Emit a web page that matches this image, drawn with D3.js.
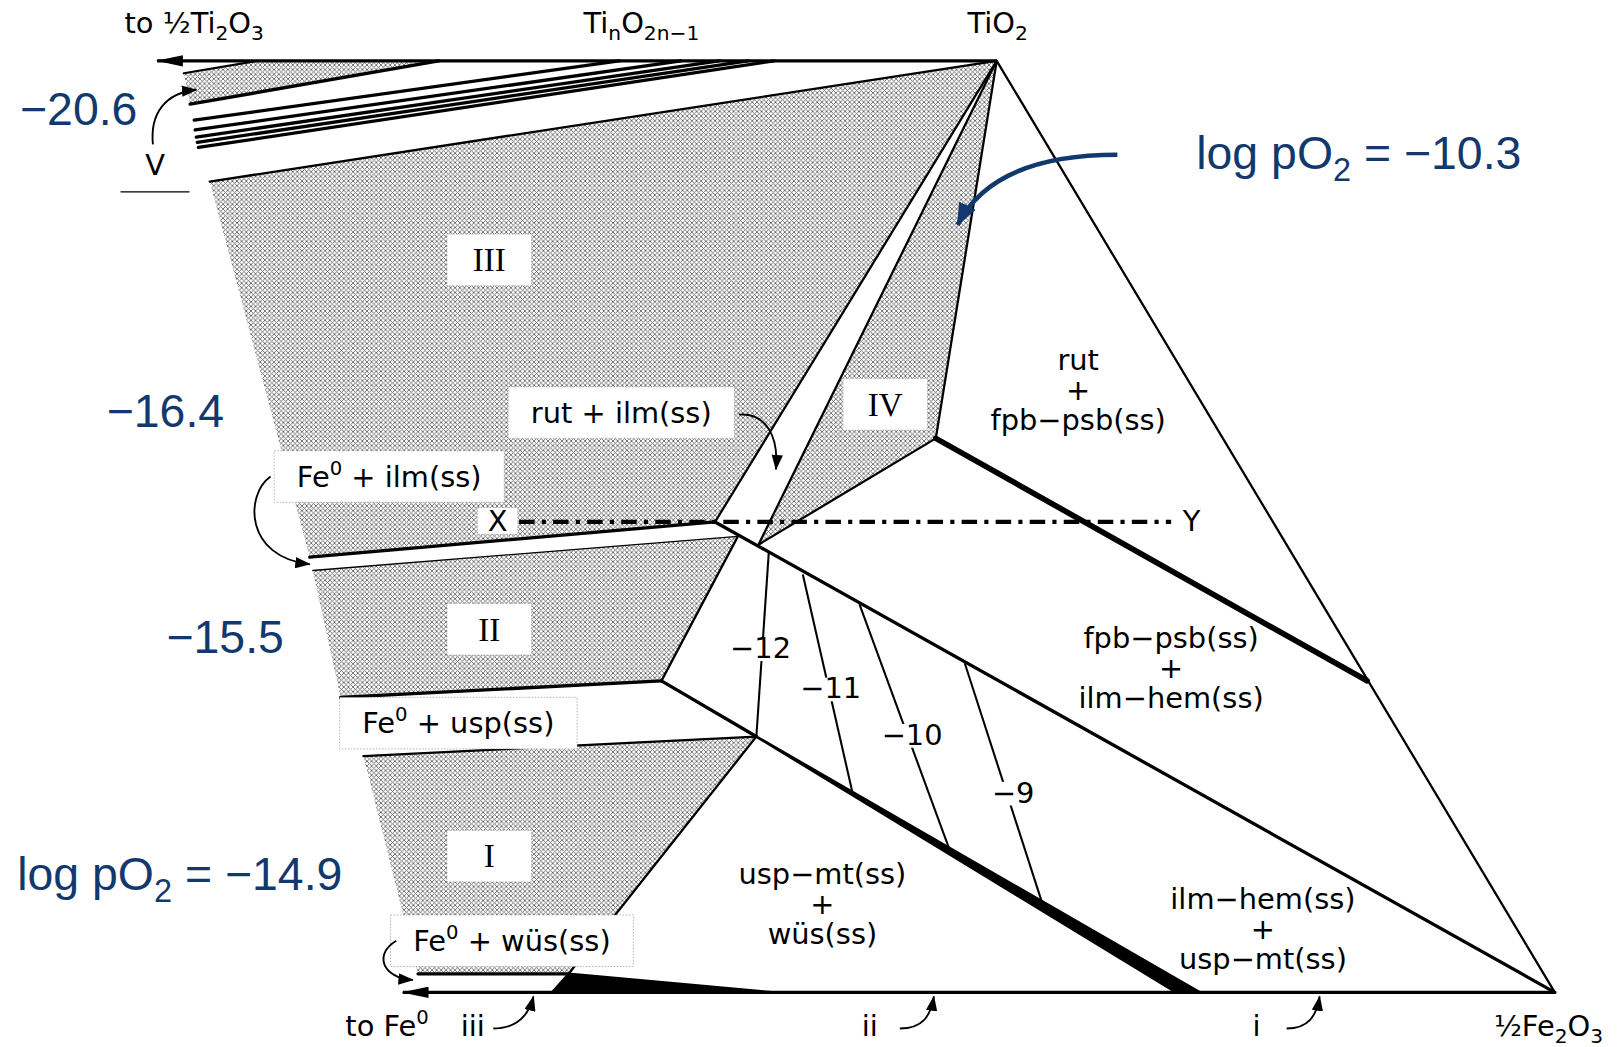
<!DOCTYPE html>
<html>
<head>
<meta charset="utf-8">
<title>Fe-Ti-O phase relations</title>
<script src="https://cdnjs.cloudflare.com/ajax/libs/d3/7.8.5/d3.min.js"></script>
<style>
    body{margin:0;background:#fff;}
    svg{display:block;}
</style>
</head>
<body>
<div id="chart"></div>
<script>
// diagram units: u goes 0 (left arrow tips) -> 100 (1/2 Fe2O3), v goes 0 (Fe - Fe2O3 join) -> 100 (Ti2O3 - TiO2 join)
var TiO2 = [60.13,100]
var Fe2O3 = [100,0]

// shaded three-phase fields (V wedge, III, IV, II, I)
var hatchRegions = [
    [[2.06,98.67],[7.30,100],[20.27,100],[2.51,95.35]],
    [[3.91,87.04],[60.13,100],[40.01,50.50],[11.05,46.73]],
    [[60.13,100],[43.11,48.06],[55.78,59.47]],
    [[11.27,45.29],[41.64,48.95],[36.18,33.44],[13.26,31.67]],
    [[14.89,25.36],[42.96,27.46],[29.55,1.99],[18.79,1.99]]
]

// joins with arrows: Ti2O3-TiO2 and Fe-Fe2O3
var joins = [
    [[60.13,100],[0.15,100]],
    [[100,0],[17.7,0]]
]

var heavyLines = [
    [[55.78,59.47],[86.59,33.44]]
]
var boldLines = [
    [[2.51,95.35],[20.27,100]],
    [[2.80,93.63],[33.16,100]],
    [[2.87,92.58],[37.58,100]],
    [[2.95,91.81],[40.31,100]],
    [[3.02,91.25],[42.37,100]],
    [[3.10,90.70],[44.22,100]],
    [[11.05,46.73],[40.01,50.50]],
    [[13.26,31.67],[36.18,33.44]],
    [[40.01,50.50],[100,0]],
    [[36.18,33.44],[42.96,27.46]],
    [[18.79,1.99],[29.55,1.99]]
]
var mediumLines = [
    [[2.06,98.67],[7.30,100]],
    [[3.91,87.04],[60.13,100]],
    [[60.13,100],[40.01,50.50]],
    [[60.13,100],[43.11,48.06]],
    [[60.13,100],[55.78,59.47]],
    [[55.78,59.47],[43.11,48.06]],
    [[41.64,48.95],[36.18,33.44]],
    [[14.89,25.36],[42.96,27.46]],
    [[42.96,27.46],[29.55,1.99]],
    [[60.13,100],[100,0]]
]
var thinLines = [
    [[11.27,45.29],[41.64,48.95]],
    [[-2.43,85.94],[2.43,85.94]]
]
// solid black wedges
var wedges = [
    [[42.96,27.46],[74.65,0],[72.95,0]],
    [[28.37,0],[29.55,1.99],[44.07,0]]
]
// section X-Y
var sectionXY = [[26.01,50.50],[72.59,50.50]]

// log pO2 isobars
var isobarLevels = ["−12","−11","−10","−9"]
var isobarTop = [[43.85,47.29],[46.28,44.85],[50.33,41.64],[57.85,35.33]]
var isobarBottom = [[42.96,27.46],[49.82,21.48],[56.74,15.39],[63.37,9.63]]
var isobarLabelAt = [[43.26,36.99],[48.27,32.67],[54.09,27.69],[61.31,21.48]]

// boxed labels
var boxLabels = ["rut + ilm(ss)","Fe^{0} + ilm(ss)","Fe^{0} + usp(ss)","Fe^{0} + wüs(ss)","X"]
var boxCenters = [[33.31,62.24],[16.73,55.37],[21.67,28.90],[25.50,5.54],[24.47,50.61]]
var romanLabels = ["III","IV","II","I"]
var romanCenters = [[23.88,78.63],[52.17,63.12],[23.88,38.98],[23.88,14.62]]

// free phase labels (three lines each)
var phaseLabels = [
    ["rut","+","fpb−psb(ss)"],
    ["fpb−psb(ss)","+","ilm−hem(ss)"],
    ["usp−mt(ss)","+","wüs(ss)"],
    ["ilm−hem(ss)","+","usp−mt(ss)"]
]
var phaseCenters = [[65.95,64.67],[72.59,34.88],[47.68,9.52],[79.15,6.87]]

var endLabels = ["to ½Ti_{2}O_{3}","Ti_{n}O_{2n−1}","TiO_{2}","to Fe^{0}","iii","ii","i","½Fe_{2}O_{3}","V","Y"]
var endCenters = [[2.80,104.10],[34.75,104.10],[60.20,104.10],[16.58,-3.55],[22.70,-3.55],[51.07,-3.55],[78.70,-3.55],[99.55,-3.55],[0,88.82],[74.06,50.61]]

var pO2Labels = ["−20.6","−16.4","−15.5","log pO_{2} = −14.9","log pO_{2} = −10.3"]
var pO2Centers = [[-5.45,94.90],[0.74,62.46],[5.01,38.21],[1.77,12.74],[86.0,90.14]]

// leader arrows, cubic: start, c1, c2, end
var leaders = [
    [[-0.15,91.03],[-0.37,94.35],[0.74,96.57],[2.95,96.90]],
    [[41.71,62.02],[43.48,62.24],[44.59,60.02],[44.36,56.15]],
    [[8.25,55.37],[6.41,53.38],[6.41,46.73],[11.05,45.96]],
    [[17.24,5.54],[15.62,4.10],[16.21,1.55],[18.42,1.33]],
    [[24.17,-3.88],[25.79,-3.88],[26.68,-2.55],[27.04,-0.44]],
    [[53.21,-3.88],[54.83,-3.88],[55.42,-2.55],[55.64,-0.44]],
    [[80.84,-3.88],[82.39,-3.88],[82.98,-2.55],[83.20,-0.44]]
]
var blueLeader = [[68.75,89.92],[62.64,89.92],[58.95,87.15],[57.33,82.39]]

var blue = "#12396e"
var sans = "'DejaVu Sans', Verdana, sans-serif"

var svg = d3.select("#chart").append("svg")
    .attr("width",1618).attr("height",1047)
    .attr("viewBox","0 0 1568 1015")
svg.append("rect").attr("width",1568).attr("height",1015).attr("fill","#fff")

var x = d3.scaleLinear().domain([0,100]).range([150,1507])
var y = d3.scaleLinear().domain([0,100]).range([962,59])
var line = d3.line().x(function(d){return x(d[0])}).y(function(d){return y(d[1])})

function cubic(p){
    var pth = d3.path()
    pth.moveTo(x(p[0][0]),y(p[0][1]))
    pth.bezierCurveTo(x(p[1][0]),y(p[1][1]),x(p[2][0]),y(p[2][1]),x(p[3][0]),y(p[3][1]))
    return pth.toString()
}

var defs = svg.append("defs")
var pat = defs.append("pattern").attr("id","hatch").attr("patternUnits","userSpaceOnUse")
    .attr("width",4.5).attr("height",4.5)
pat.append("rect").attr("width",4.5).attr("height",4.5).attr("fill","#fff")
pat.append("path").attr("d","M-1,-1L5.5,5.5M5.5,-1L-1,5.5").attr("stroke","#626262").attr("stroke-width",0.85)

function marker(id,w,h,color){
    defs.append("marker").attr("id",id).attr("viewBox","0 0 "+w+" "+h)
        .attr("refX",w-1).attr("refY",h/2)
        .attr("markerWidth",w).attr("markerHeight",h)
        .attr("markerUnits","userSpaceOnUse").attr("orient","auto")
        .append("path").attr("d","M0,0L"+w+","+(h/2)+"L0,"+h+"Z").attr("fill",color)
}
marker("joinArrow",26,11,"#000")
marker("smallArrow",15,11,"#000")
marker("blueArrow",22,18,blue)

// shaded fields
svg.selectAll(".hatch").data(hatchRegions).enter().append("path")
    .attr("class","hatch")
    .attr("d",function(d){return line(d)+"Z"})
    .attr("fill","url(#hatch)")

function drawLines(data,w){
    svg.append("g").selectAll("path").data(data).enter().append("path")
        .attr("d",line).attr("fill","none").attr("stroke","#000")
        .attr("stroke-width",w).attr("stroke-linecap","round")
}
drawLines(thinLines,1.3)
drawLines(mediumLines,2.2)
drawLines(boldLines,3.2)
drawLines(heavyLines,5.5)

svg.append("g").selectAll("path").data(joins).enter().append("path")
    .attr("d",line).attr("fill","none").attr("stroke","#000").attr("stroke-width",3)
    .attr("marker-end","url(#joinArrow)")

svg.append("g").selectAll("path").data(wedges).enter().append("path")
    .attr("d",function(d){return line(d)+"Z"})
    .attr("fill","#000").attr("stroke","#000").attr("stroke-width",2.5).attr("stroke-linejoin","round")

// X - Y section
svg.append("path").attr("d",line(sectionXY)).attr("fill","none").attr("stroke","#000")
    .attr("stroke-width",4).attr("stroke-dasharray","15,7,4,7")

// isobars
var iso = svg.append("g")
isobarLevels.forEach(function(lv,i){
    iso.append("path").attr("d",line([isobarTop[i],isobarBottom[i]]))
        .attr("stroke","#000").attr("stroke-width",2).attr("fill","none")
})
isobarLevels.forEach(function(lv,i){
    var t = iso.append("text").attr("x",x(isobarLabelAt[i][0])).attr("y",y(isobarLabelAt[i][1]))
        .attr("dy","0.36em").attr("text-anchor","middle")
        .attr("font-family",sans).attr("font-size",28).text(lv)
    var b = t.node().getBBox()
    iso.insert("rect","text").attr("x",b.x+3).attr("y",b.y+6).attr("width",b.width-6).attr("height",b.height-10)
        .attr("fill","#fff")
})

function rich(sel,str,size){
    var parts = str.split(/(_\{[^}]*\}|\^\{[^}]*\})/).filter(function(s){return s.length})
    var shift = 0
    parts.forEach(function(p){
        var target = 0, txt = p, fs = size
        if(p[0]=="_"){target = size*0.26; txt = p.slice(2,-1); fs = size*0.7}
        else if(p[0]=="^"){target = -size*0.42; txt = p.slice(2,-1); fs = size*0.68}
        sel.append("tspan").attr("dy",target-shift).attr("font-size",fs).text(txt)
        shift = target
    })
}

// boxed labels
var boxes = svg.append("g")
boxLabels.forEach(function(lb,i){
    var cx = x(boxCenters[i][0]), cy = y(boxCenters[i][1])
    var t = boxes.append("text").attr("x",cx).attr("y",cy+10)
        .attr("text-anchor","middle").attr("font-family",sans).attr("font-size",28)
    rich(t,lb,28)
    var b = t.node().getBBox()
    var small = lb == "X"
    var w = b.width + (small ? 20 : 44), h = small ? 26 : 50
    boxes.insert("rect","text").attr("x",cx-w/2).attr("y",cy-h/2).attr("width",w).attr("height",h)
        .attr("fill","#fff").attr("stroke","#888").attr("stroke-width",0.6).attr("stroke-dasharray","1.5,1.5")
})
romanLabels.forEach(function(lb,i){
    var cx = x(romanCenters[i][0]), cy = y(romanCenters[i][1])
    boxes.append("rect").attr("x",cx-41).attr("y",cy-25).attr("width",82).attr("height",50)
        .attr("fill","#fff").attr("stroke","#888").attr("stroke-width",0.6).attr("stroke-dasharray","1.5,1.5")
    boxes.append("text").attr("x",cx).attr("y",cy+11).attr("text-anchor","middle")
        .attr("font-family","'Liberation Serif', 'Times New Roman', serif").attr("font-size",32).text(lb)
})

// phase assemblage labels, one text block each
phaseLabels.forEach(function(rows,i){
    var cx = x(phaseCenters[i][0])
    var t = svg.append("text").attr("x",cx).attr("y",y(phaseCenters[i][1])-19)
        .attr("text-anchor","middle").attr("font-family",sans).attr("font-size",28)
    rows.forEach(function(r,j){
        t.append("tspan").attr("x",cx).attr("dy",j==0 ? 0 : 29).text(r)
    })
})

endLabels.forEach(function(lb,i){
    var t = svg.append("text").attr("x",x(endCenters[i][0])).attr("y",y(endCenters[i][1])+10)
        .attr("text-anchor","middle").attr("font-family",sans).attr("font-size",28)
    rich(t,lb,28)
})

pO2Labels.forEach(function(lb,i){
    var t = svg.append("text").attr("x",x(pO2Centers[i][0])).attr("y",y(pO2Centers[i][1])+16)
        .attr("text-anchor","middle").attr("font-family","'Liberation Sans', Arial, sans-serif")
        .attr("font-size",45).attr("fill",blue)
    rich(t,lb,45)
})

// leader arrows
svg.append("g").selectAll("path").data(leaders).enter().append("path")
    .attr("d",cubic).attr("fill","none").attr("stroke","#000").attr("stroke-width",1.8)
    .attr("marker-end","url(#smallArrow)")
svg.append("path").attr("d",cubic(blueLeader)).attr("fill","none").attr("stroke",blue)
    .attr("stroke-width",4.5).attr("marker-end","url(#blueArrow)")
</script>
</body>
</html>
